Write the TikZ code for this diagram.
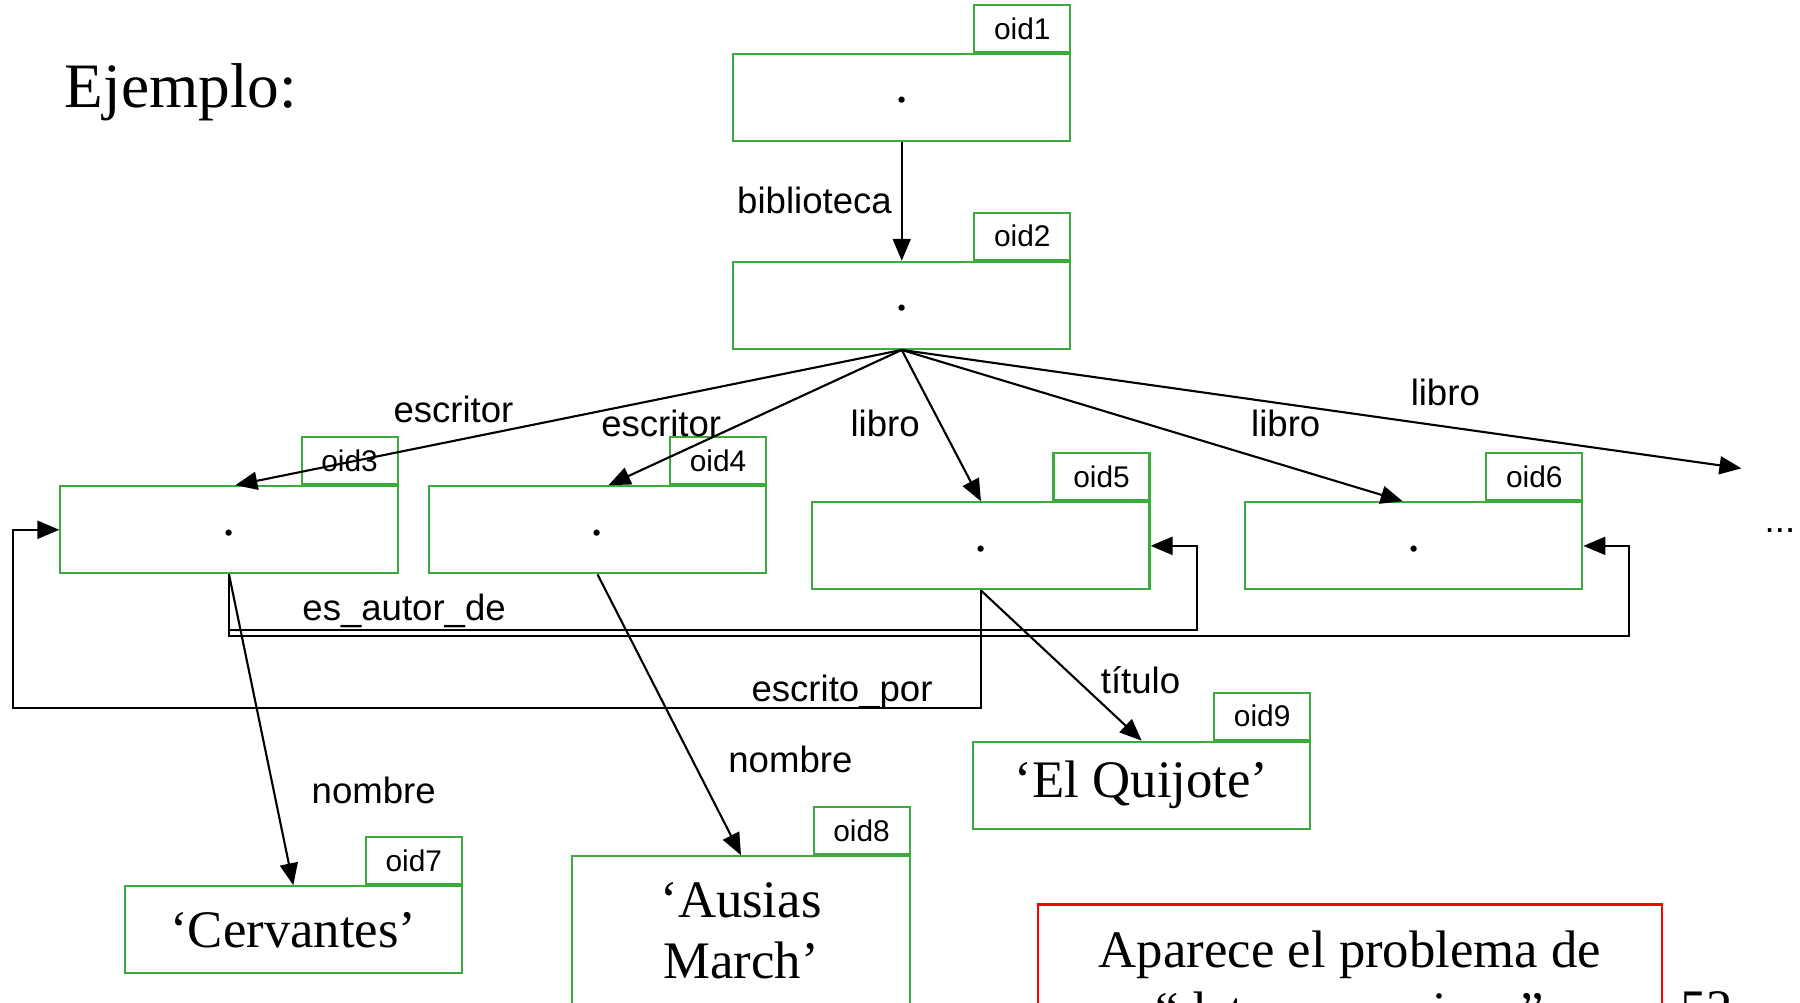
\documentclass[tikz,border=0pt]{standalone}
\usepackage{fontspec}
\setmainfont{Liberation Serif}
\setsansfont{Liberation Sans}
\usetikzlibrary{arrows.meta}
\definecolor{objgreen}{RGB}{60,170,60}

\begin{document}
\begin{tikzpicture}[x=0.01148cm,y=-0.01148cm,
    obj/.style={rectangle,draw=objgreen,line width=0.6pt,minimum width=3.37cm,minimum height=0.87cm,inner sep=0pt,font=\fontsize{15}{17.5}\selectfont},
    ptr/.style={obj,text height=0.4em,text depth=0.1em},
    tag/.style={rectangle,draw=objgreen,line width=0.6pt,minimum width=0.96cm,minimum height=0.47cm,inner sep=0pt,anchor=south east,font=\sffamily\fontsize{8.5}{10}\selectfont},
    rel/.style={->,>={Triangle[length=2.2mm,width=1.8mm]},line width=0.6pt},
    lbl/.style={inner sep=0pt,anchor=base,font=\sffamily\fontsize{10.4}{12}\selectfont}]
        \useasboundingbox (0,0) rectangle (1568,873);
        \node[anchor=base west,inner sep=0pt,font=\fontsize{18}{20}\selectfont] (title) at (56,94) {Ejemplo:};

        % objects
        \node[ptr] (o1) at (785.5,85) {.};
        \node[tag] (o1t) at (o1.north east) {oid1};
        \node[ptr] (o2) at (785.5,266) {.};
        \node[tag] (o2t) at (o2.north east) {oid2};
        \node[ptr] (o3) at (199.5,461.5) {.};
        \node[tag] (o3t) at (o3.north east) {oid3};
        \node[ptr] (o4) at (520.5,461.5) {.};
        \node[tag] (o4t) at (o4.north east) {oid4};
        \node[ptr] (o5) at (854.5,475.5) {.};
        \node[tag] (o5t) at (o5.north east) {oid5};
        \node[ptr] (o6) at (1231.5,475.5) {.};
        \node[tag] (o6t) at (o6.north east) {oid6};
        \node[obj] (o7) at (255.5,810) {‘Cervantes’};
        \node[tag] (o7t) at (o7.north east) {oid7};
        \node[obj,anchor=north,align=center,inner ysep=0.26cm] (o8) at (645.5,745) {‘Ausias\\March’};
        \node[tag] (o8t) at (o8.north east) {oid8};
        \node[obj] (o9) at (994.5,684) {‘El Quijote’};
        \node[tag] (o9t) at (o9.north east) {oid9};
        \coordinate (more) at (1517,408);

        % links
        \draw[rel] (o1.south) -- (o2.north);
        \draw[rel] (o2.south) -- ([xshift=0.063cm]o3.north);
        \draw[rel] (o2.south) -- ([xshift=0.11cm]o4.north);
        \draw[rel] (o2.south) -- (o5.north);
        \draw[rel] (o2.south) -- ([xshift=-0.11cm]o6.north);
        \draw[rel] (o2.south) -- (more);
        \draw[rel] (o3.south) -- (o7.north);
        \draw[rel] (o4.south) -- (o8.north);
        \draw[rel] (o5.south) -- (o9.north);
        \draw[rel] (o3.south) |- (1043,549) |- (o5.east);
        \draw[rel] (o3.south) |- (1419,554) |- (o6.east);
        \draw[rel] (o5.south) |- (11,617) |- (o3.west);

        % labels
        \node[lbl] (lbiblio) at (709.5,185.7) {biblioteca};
        \node[lbl] (lesc1) at (395,368) {escritor};
        \node[lbl] (lesc2) at (576,380.5) {escritor};
        \node[lbl] (llib1) at (771,380.5) {libro};
        \node[lbl] (llib2) at (1120,380.5) {libro};
        \node[lbl] (llib3) at (1259,353) {libro};
        \node[lbl] (lautor) at (352,540.5) {es\_autor\_de};
        \node[lbl] (lpor) at (733.5,611) {escrito\_por};
        \node[lbl] (ltit) at (993.5,604) {título};
        \node[lbl] (lnom1) at (325.5,700) {nombre};
        \node[lbl] (lnom2) at (688.5,673) {nombre};
        \node[lbl] (ldots) at (1550.5,464) {...};

        \node[obj,draw=red,anchor=north,minimum width=6.24cm,align=center,inner ysep=0.26cm] (note) at (1176,787) {Aparece el problema de\\“datos recursivos”};
        \node[anchor=base west,inner sep=0pt,font=\fontsize{15}{17}\selectfont] (pg) at (1463,894) {52};
    \end{tikzpicture}
\end{document}
